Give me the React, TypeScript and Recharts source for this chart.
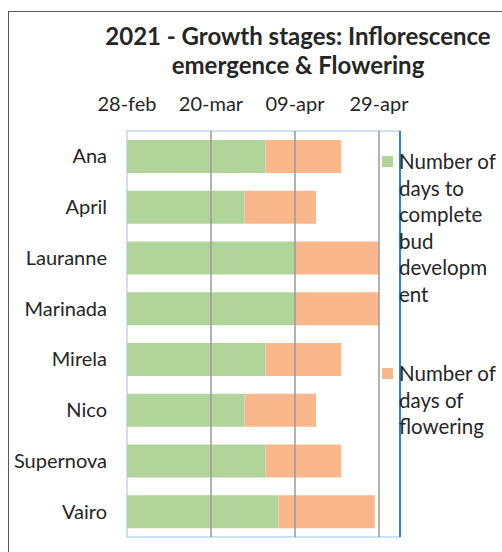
import React from 'react'
import {
  BarChart, Bar, XAxis, YAxis, ReferenceArea, ReferenceLine,
} from 'recharts'

// days counted from 28-feb 2021
const varieties = ['Ana', 'April', 'Lauranne', 'Marinada', 'Mirela', 'Nico', 'Supernova', 'Vairo']
const budDays = [33, 28, 40, 40, 33, 28, 33, 36]
const floweringDays = [18, 17, 20, 20, 18, 17, 18, 23]
const tickDays = [0, 20, 40, 60]
const tickLabels = ['28-feb', '20-mar', '09-apr', '29-apr']
const seriesNames = ['Number of days to complete bud development', 'Number of days of flowering']
const legendLines = [
  ['Number of', 'days to', 'complete', 'bud', 'developm', 'ent'],
  ['Number of', 'days of', 'flowering'],
]

const GREEN = '#b1d49b'
const ORANGE = '#f9b78b'
const FONT = 'Lato, Carlito, Calibri, sans-serif'

const data = varieties.map((name, i) => ({
  name,
  bud: budDays[i],
  flowering: floweringDays[i],
}))

function LegendBox() {
  const colors = [GREEN, ORANGE]
  return (
    <div style={{
      position: 'absolute', left: 382, top: 148, width: 120,
      fontFamily: FONT, fontSize: 20.5, lineHeight: '26.5px', color: '#262626',
    }}>
      {legendLines.map((lines, i) => (
        <div key={i} style={{ position: 'relative', paddingLeft: 17, marginBottom: i === 0 ? 53 : 0 }}>
          <span style={{ position: 'absolute', left: 0, top: 8, width: 11, height: 11, background: colors[i] }} />
          {lines.map((l) => <div key={l}>{l}</div>)}
        </div>
      ))}
    </div>
  )
}

export default function App() {
  return (
    <div style={{ position: 'absolute', left: 0, top: 0, width: 502, height: 552, background: '#fff', overflow: 'hidden' }}>
      <div style={{
        position: 'absolute', left: 8, top: 11, width: 520, height: 560,
        border: '1.5px solid #595959', boxSizing: 'border-box',
      }} />
      <div style={{
        position: 'absolute', left: 0, width: 596, top: 21, textAlign: 'center',
        fontFamily: FONT, fontWeight: 'bold', fontSize: 24, lineHeight: '29px', color: '#262626',
      }}>
        2021 - Growth stages: Inflorescence<br />emergence &amp; Flowering
      </div>
      <div style={{ position: 'absolute', left: 0, top: 0 }}>
        <BarChart
          width={502}
          height={552}
          data={data}
          layout="vertical"
          margin={{ top: 91, right: 102, bottom: 15, left: 9 }}
          barSize={33}
        >
          <XAxis type="number" orientation="top" domain={[0, 65]} ticks={tickDays} height={40}
            axisLine={false} tickLine={false} interval={0}
            tick={{ fontFamily: FONT, fontSize: 20, fill: '#262626', dy: -12 }}
            tickFormatter={(v: number) => tickLabels[tickDays.indexOf(v)]} />
          <YAxis type="category" dataKey="name" width={118} axisLine={false} tickLine={false}
            tick={{ fontFamily: FONT, fontSize: 20, fill: '#262626', dx: -12 }} />
          {tickDays.slice(1).map((d) => (
            <ReferenceLine key={d} x={d} stroke="#9a9a9a" strokeWidth={1.5} />
          ))}
          <ReferenceArea x1={0} x2={65} fill="none" stroke="#bdd7ee" strokeWidth={1.5} ifOverflow="visible" />
          <ReferenceLine x={65} stroke="#2f80cf" strokeWidth={2} ifOverflow="visible" />
          <Bar dataKey="bud" name={seriesNames[0]} stackId="a" fill={GREEN} isAnimationActive={false} />
          <Bar dataKey="flowering" name={seriesNames[1]} stackId="a" fill={ORANGE} isAnimationActive={false} />
        </BarChart>
      </div>
      <LegendBox />
    </div>
  )
}
